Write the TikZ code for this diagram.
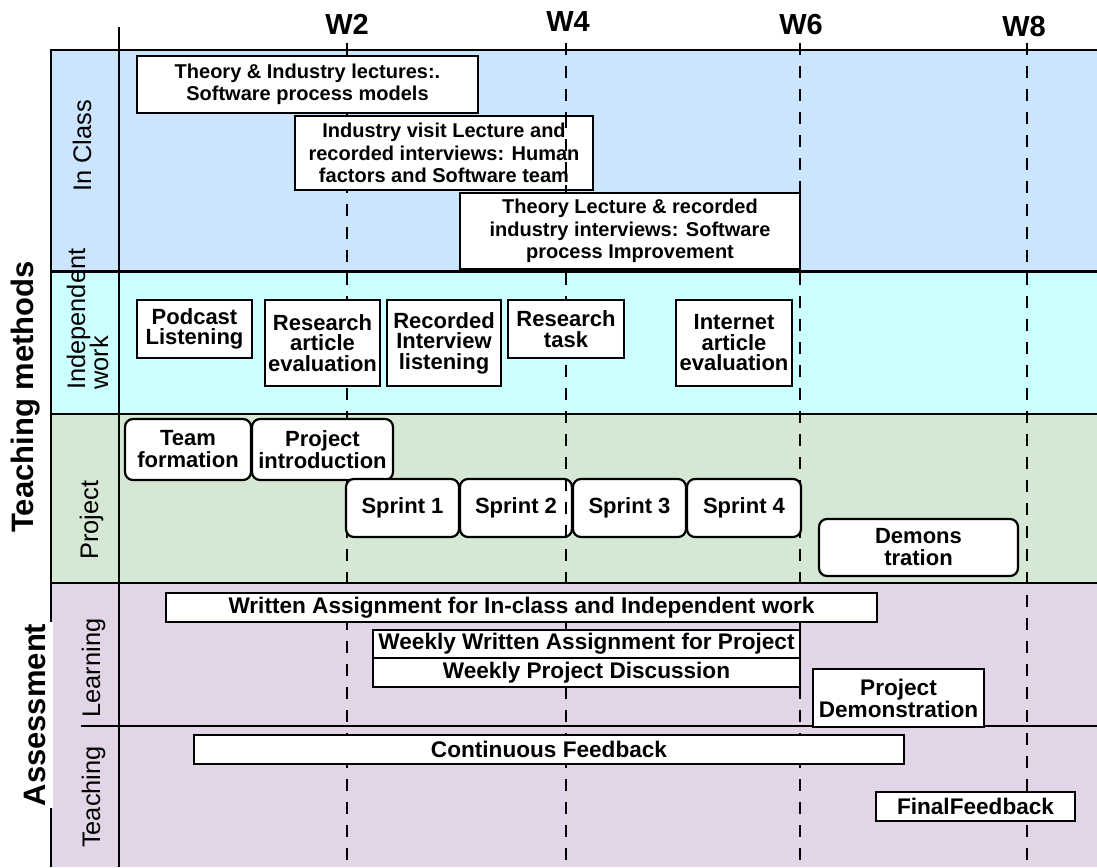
\documentclass[tikz,border=0pt]{standalone}
\usepackage{fontspec}
\setmainfont{Liberation Sans}
\usetikzlibrary{positioning}
\definecolor{inclass}{RGB}{204,229,255}
\definecolor{indep}{RGB}{204,255,255}
\definecolor{projgreen}{RGB}{213,232,212}
\definecolor{assesspurple}{RGB}{225,213,231}

\begin{document}
\begin{tikzpicture}[
        x=1pt, y=-1pt,
        node distance=1pt,
        lecture/.style={rectangle, draw, fill=white, line width=2.2pt, inner sep=0pt, outer sep=0pt, align=center, font=\fontsize{20}{22.5}\selectfont\bfseries},
        task/.style={lecture, font=\fontsize{22}{20.5}\selectfont\bfseries},
        phase/.style={lecture, rounded corners=8pt, font=\fontsize{22}{22}\selectfont\bfseries},
        assess/.style={lecture, font=\fontsize{22.6}{22}\selectfont\bfseries},
        rowlabel/.style={rotate=90, anchor=base, inner sep=0pt, font=\fontsize{25.4}{23}\selectfont},
        grouplabel/.style={rotate=90, anchor=base, font=\fontsize{31}{31}\selectfont\bfseries},
        weeklabel/.style={anchor=base, inner sep=0pt, font=\fontsize{29}{29}\selectfont\bfseries},
        weekline/.style={dash pattern=on 12pt off 11pt, line width=1.5pt},
        bandline/.style={line width=2.5pt}
    ]
        \useasboundingbox (0,0) rectangle (1097,867);

        \fill[inclass] (51,50) rectangle (1097,271);
        \fill[indep] (51,271) rectangle (1097,414);
        \fill[projgreen] (51,414) rectangle (1097,583);
        \fill[assesspurple] (51,583) rectangle (1097,867);

        \coordinate (d2) at (347,43);
        \coordinate (d4) at (566,43);
        \coordinate (d6) at (800,43);
        \coordinate (d8) at (1027,43);
        \coordinate (bot) at (0,867);
        \foreach \d in {d2,d4,d6,d8}
            \draw[weekline] (\d) -- (\d |- bot);

        \draw[bandline] (51,867) -- (51,50) -- (1097,50);
        \draw[bandline] (119,27) -- (119,867);
        \draw[line width=3pt] (51,271) -- (1097,271);
        \draw[bandline] (51,414) -- (1097,414);
        \draw[bandline] (51,583) -- (1097,583);
        \draw[line width=1.8pt] (81,726) -- (1097,726);

        \node[weeklabel] (w2) at (347,35) {W2};
        \node[weeklabel] (w4) at (568,32) {W4};
        \node[weeklabel] (w6) at (801,35) {W6};
        \node[weeklabel] (w8) at (1024,37) {W8};

        \node[grouplabel] (tm) at (33,397) {Teaching methods};
        \node[grouplabel, fill=white, inner xsep=1.5pt, inner ysep=8pt] (as) at (45,715) {Assessment};

        \node[rowlabel] (lclass) at (91,146) {In Class};
        \node[rowlabel, anchor=base west] (lindep) at (85,390) {Independent};
        \node[rowlabel, anchor=base west] (lwork) at (108,390) {work};
        \node[rowlabel] (lproj) at (98,520) {Project};
        \node[rowlabel] (llearn) at (100,668) {Learning};
        \node[rowlabel] (lteach) at (100,797) {Teaching};

        \node[lecture, minimum width=341pt, minimum height=57pt] (th1) at (307.5,84.5) {Theory \& Industry lectures:.\\Software process models};
        \node[lecture, minimum width=298pt, minimum height=74pt] (ind) at (444,153) {Industry visit Lecture and\\recorded interviews: Human\\factors and Software team};
        \node[lecture, minimum width=340pt, minimum height=76pt] (th2) at (630,231) {Theory Lecture \& recorded\\industry interviews: Software\\process Improvement};

        \node[task, minimum width=115pt, minimum height=58pt] (pod) at (194.5,329) {Podcast\\Listening};
        \node[task, minimum width=115pt, minimum height=86pt] (rae) at (322.5,343) {Research\\article\\evaluation};
        \node[task, minimum width=114pt, minimum height=86pt] (ril) at (444,343) {Recorded\\Interview\\listening};
        \node[task, minimum width=116pt, minimum height=58pt] (rt) at (566,329) {Research\\task};
        \node[task, minimum width=116pt, minimum height=86pt] (iae) at (734,343) {Internet\\article\\evaluation};

        \node[phase, minimum width=126pt, minimum height=61pt] (team) at (188,449.5) {Team\\formation};
        \node[phase, minimum width=141pt, minimum height=61pt, right=1pt of team] (pint) {Project\\introduction};
        \node[phase, minimum width=113pt, minimum height=58pt] (s1) at (402.5,508) {Sprint 1};
        \node[phase, minimum width=112pt, minimum height=58pt, right=1pt of s1] (s2) {Sprint 2};
        \node[phase, minimum width=113pt, minimum height=58pt, right=1pt of s2] (s3) {Sprint 3};
        \node[phase, minimum width=114pt, minimum height=58pt, right=1pt of s3] (s4) {Sprint 4};
        \node[phase, minimum width=199pt, minimum height=57pt] (demo) at (918.5,547.5) {Demons\\tration};

        \node[assess, minimum width=711pt, minimum height=29pt] (wa) at (521.5,607.5) {Written Assignment for In-class and Independent work};
        \node[assess, minimum width=427pt, minimum height=28pt] (wwa) at (586.5,644) {Weekly Written Assignment for Project};
        \node[assess, minimum width=427pt, minimum height=29pt, below=0pt of wwa] (wpd) {Weekly Project Discussion};
        \node[assess, minimum width=171pt, minimum height=58pt] (pdm) at (898.5,698) {Project\\Demonstration};
        \node[assess, minimum width=710pt, minimum height=29pt] (cf) at (549,749.5) {Continuous Feedback};
        \node[assess, minimum width=199pt, minimum height=29pt] (ff) at (975.5,806.5) {FinalFeedback};

        \draw[weekline] (d4 |- ind.north) -- (d4 |- ind.south);
        \draw[weekline] (d4 |- s2.north) -- (d4 |- s2.south);
    \end{tikzpicture}
\end{document}
